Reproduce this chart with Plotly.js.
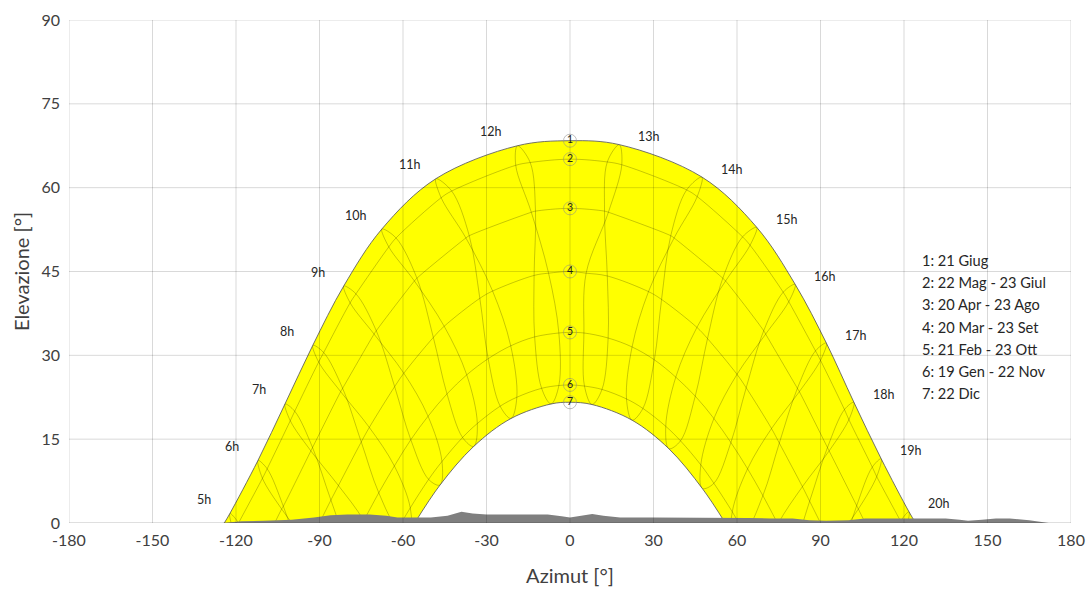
<!DOCTYPE html>
<html><head><meta charset="utf-8">
<script src="https://cdn.plot.ly/plotly-3.0.1.min.js"></script>
<style>body{margin:0;background:#fff}#chart{width:1089px;height:589px}</style>
</head><body><div id="chart"></div>
<script>
// ---- data ----
const hourLabels = ['5h','6h','7h','8h','9h','10h','11h','12h','13h','14h','15h','16h','17h','18h','19h','20h'];
// dates of each analemma point (one loop per hour), in calendar order round the figure-8
const dateNames = ['21 Giu','23 Lug','23 Ago','23 Set','23 Ott','22 Nov','22 Dic','19 Gen','21 Feb','20 Mar','20 Apr','22 Mag'];
const dateCurve = [1,2,3,4,5,6,7,6,5,4,3,2];

const az5  = [-122.2,-120.8,-114.4,-104.8,-95.2,-88.0,-87.4,-92.3,-100.8,-107.6,-113.7,-119.1];
const el5  = [1.7,-1.5,-7.6,-14.3,-20.7,-27.3,-31.6,-31.7,-25.8,-16.9,-7.0,0.0];
const az6  = [-112.1,-110.5,-103.6,-93.9,-84.6,-77.9,-77.5,-82.0,-89.8,-96.5,-103.0,-108.8];
const el6  = [11.2,8.0,2.5,-3.9,-10.1,-16.8,-21.1,-21.1,-15.3,-6.5,3.0,9.7];
const az7  = [-102.4,-100.5,-93.1,-83.2,-74.1,-67.9,-67.7,-72.0,-79.3,-85.9,-92.5,-98.9];
const el7  = [21.3,18.3,12.9,6.7,0.4,-6.7,-11.0,-10.8,-4.7,4.1,13.5,20.0];
const az8  = [-92.4,-90.3,-82.4,-72.1,-63.1,-57.4,-57.6,-61.8,-68.7,-75.0,-81.7,-88.5];
const el8  = [31.8,28.8,23.5,17.1,10.2,2.7,-1.6,-1.0,5.4,14.5,24.1,30.5];
const az9  = [-81.3,-79.0,-70.4,-59.7,-51.0,-46.0,-46.7,-50.8,-57.2,-63.0,-69.6,-76.9];
const el9  = [42.4,39.4,33.8,26.8,19.1,11.0,6.8,7.8,14.9,24.4,34.4,41.0];
const az10 = [-67.6,-65.1,-55.9,-45.2,-37.1,-33.3,-34.6,-38.6,-44.2,-49.1,-55.0,-62.5];
const el10 = [52.6,49.4,43.3,35.2,26.5,17.8,13.7,15.3,23.1,33.2,43.8,51.0];
const az11 = [-48.2,-46.3,-37.4,-27.8,-21.3,-19.1,-21.2,-25.1,-29.4,-32.4,-36.2,-42.5];
const el11 = [61.6,58.2,51.0,41.5,31.7,22.5,18.7,20.9,29.4,40.2,51.4,59.4];
const az12 = [-18.9,-19.5,-13.9,-7.7,-4.0,-4.0,-6.8,-10.2,-12.7,-12.9,-12.4,-14.3];
const el12 = [67.5,64.0,55.6,44.7,34.0,24.6,21.3,24.1,33.3,44.3,55.8,64.5];
const az13 = [17.7,13.4,12.4,13.4,13.7,11.5,7.9,5.2,5.0,5.8,13.8,18.6];
const el13 = [67.7,64.6,55.8,44.2,33.1,23.9,21.2,24.5,34.0,44.7,55.6,64.1];
const az14 = [47.4,41.9,36.2,32.9,30.3,26.2,22.3,20.3,22.3,28.2,37.4,45.7];
const el14 = [61.9,59.6,51.4,40.0,29.2,20.5,18.4,22.2,31.5,41.4,51.0,58.4];
const az15 = [67.1,62.0,54.9,49.4,45.0,39.7,35.5,34.4,38.0,45.6,55.9,64.7];
const el15 = [52.9,51.2,43.8,33.0,22.7,14.7,13.3,17.3,26.1,35.0,43.3,49.7];
const az16 = [80.9,76.6,69.6,63.3,57.8,51.7,47.5,47.0,51.7,60.0,70.3,78.6];
const el16 = [42.7,41.3,34.4,24.2,14.4,7.1,6.2,10.4,18.7,26.6,33.8,39.6];
const az17 = [92.1,88.2,81.7,75.2,69.3,62.6,58.4,58.3,63.8,72.4,82.4,90.0];
const el17 = [32.2,30.8,24.1,14.3,4.9,-1.8,-2.2,2.0,9.7,16.9,23.5,29.1];
const az18 = [102.0,98.6,92.5,86.1,79.9,72.8,68.4,68.7,74.7,83.5,93.1,100.2];
const el18 = [21.6,20.3,13.5,3.9,-5.3,-11.6,-11.7,-7.5,-0.2,6.5,12.9,18.5];
const az19 = [111.8,108.6,103.0,96.8,90.4,82.8,78.2,78.7,85.2,94.1,103.6,110.2];
const el19 = [11.5,10.0,3.1,-6.7,-15.9,-22.0,-21.9,-17.7,-10.7,-4.1,2.5,8.3];
const az20 = [121.8,118.8,113.7,107.9,101.4,93.2,88.2,88.8,95.8,105.0,114.3,120.5];
const el20 = [2.0,0.3,-7.0,-17.1,-26.4,-32.5,-32.4,-28.2,-21.2,-14.5,-7.6,-1.3];

// date curves 1..7: elevation at azimuth 0 and sunrise/sunset azimuth
const curveLabels = ['1','2','3','4','5','6','7'];
const curveNoonElev = [68.4,65.1,56.3,45.0,34.1,24.7,21.6];
const curveRiseAz = [124.2,119.1,106.1,90.0,74.5,60.6,55.8];
const legendLines = ['1: 21 Giug','2: 22 Mag - 23 Giul','3: 20 Apr - 23 Ago','4: 20 Mar - 23 Set','5: 21 Feb - 23 Ott','6: 19 Gen - 22 Nov','7: 22 Dic'];

// horizon profile (grey)
const terrAz = [-125,-118,-110,-100,-92,-86,-80,-72,-66,-62,-57,-50,-44,-39,-35,-30,-20,-8,-3,0,4,8,12,18,30,45,58,64,72,80,86,92,100,106,115,125,135,140,143,148,153,158,165,172];
const terrEl = [0,0.3,0.4,0.6,1.0,1.4,1.5,1.5,1.3,1.0,1.0,1.0,1.3,2.0,1.7,1.5,1.5,1.5,1.2,1.0,1.3,1.6,1.3,1.0,1.0,1.0,1.0,0.9,0.8,0.8,0.5,0.4,0.5,0.8,0.8,0.8,0.8,0.6,0.4,0.6,0.8,0.8,0.5,0];

const xTicks = [-180,-150,-120,-90,-60,-30,0,30,60,90,120,150,180];
const yTicks = [0,15,30,45,60,75,90];

// ---- build ----
const hourAz = [az5,az6,az7,az8,az9,az10,az11,az12,az13,az14,az15,az16,az17,az18,az19,az20];
const hourEl = [el5,el6,el7,el8,el9,el10,el11,el12,el13,el14,el15,el16,el17,el18,el19,el20];
const FONT = 'Lato, "Open Sans", sans-serif';

function curvePoints(k) {
  const pts = [];
  hourAz.forEach((azs, hi) => azs.forEach((a, di) => {
    if (dateCurve[di] === k && hourEl[hi][di] > 0.2) pts.push([a, hourEl[hi][di]]);
  }));
  pts.push([0, curveNoonElev[k-1]]);
  pts.push([-curveRiseAz[k-1], 0], [curveRiseAz[k-1], 0]);
  pts.sort((p, q) => p[0] - q[0]);
  return {x: pts.map(p => p[0]), y: pts.map(p => p[1])};
}

const traces = [];
const c7 = curvePoints(7), c1 = curvePoints(1);
traces.push({x: c7.x, y: c7.y, mode: 'lines', line: {width: 0, shape: 'spline'}, hoverinfo: 'skip', showlegend: false});
traces.push({x: c1.x, y: c1.y, mode: 'lines', fill: 'tonexty', fillcolor: '#ffff00', line: {width: 0, shape: 'spline'}, hoverinfo: 'skip', showlegend: false});

// analemmas
hourAz.forEach((azs, hi) => {
  const els = hourEl[hi];
  traces.push({x: azs.concat([azs[0]]), y: els.concat([els[0]]), mode: 'lines',
    line: {color: 'rgba(0,0,0,0.28)', width: 0.8, shape: 'spline'}, hoverinfo: 'skip', showlegend: false});
});
// date curves
for (let k = 1; k <= 7; k++) {
  const c = curvePoints(k);
  const edge = (k === 1 || k === 7);
  traces.push({x: c.x, y: c.y, mode: 'lines',
    line: {color: edge ? 'rgba(90,90,90,0.85)' : 'rgba(0,0,0,0.28)', width: edge ? 1 : 0.8, shape: 'spline'},
    hoverinfo: 'skip', showlegend: false});
}
// horizon profile
traces.push({x: terrAz, y: terrEl, mode: 'lines', fill: 'tozeroy', fillcolor: '#7f7f7f',
  line: {width: 0, color: '#7f7f7f'}, hoverinfo: 'skip', showlegend: false});
// numbered circles
traces.push({x: curveNoonElev.map(() => 0), y: curveNoonElev, mode: 'markers+text', text: curveLabels,
  textposition: 'middle center', textfont: {family: FONT, size: 10.5, color: '#222'},
  marker: {symbol: 'circle', size: 13, color: 'rgba(0,0,0,0)', line: {color: 'rgba(140,140,140,0.55)', width: 1}},
  hoverinfo: 'skip', showlegend: false, cliponaxis: false});

const shapes = [];
xTicks.forEach(v => shapes.push({type: 'line', xref: 'x', yref: 'y', x0: v, x1: v, y0: 0, y1: 90, layer: 'above',
  line: {color: 'rgba(0,0,0,0.15)', width: 1}}));
yTicks.forEach(v => shapes.push({type: 'line', xref: 'x', yref: 'y', x0: -180, x1: 180, y0: v, y1: v, layer: 'above',
  line: {color: v === 0 ? 'rgba(0,0,0,0.25)' : 'rgba(0,0,0,0.15)', width: 1}}));

const annotations = [];
hourLabels.forEach((t, hi) => {
  const a = hourAz[hi][0], e = hourEl[hi][0];
  const morning = a < 0;
  annotations.push({x: a, y: e, xref: 'x', yref: 'y', text: t, showarrow: false,
    xshift: morning ? -26 : 30, yshift: morning ? 14 : 8,
    font: {family: FONT, size: 12.5, color: '#262626'}});
});
legendLines.forEach((t, i) => {
  annotations.push({x: 125.6, y: 46.9 - i * 3.945, xref: 'x', yref: 'y', text: t, showarrow: false,
    xanchor: 'left', yanchor: 'middle', font: {family: FONT, size: 14.6, color: '#262626'}});
});

const layout = {
  width: 1089, height: 589,
  margin: {l: 69, r: 18, t: 20, b: 66},
  paper_bgcolor: '#fff', plot_bgcolor: '#fff',
  showlegend: false,
  font: {family: FONT, color: '#404040'},
  xaxis: {range: [-180, 180], tickmode: 'array', tickvals: xTicks, ticktext: xTicks.map(String),
    showgrid: false, zeroline: false, showline: false, ticks: '', ticklabelstandoff: 6,
    tickfont: {family: FONT, size: 16, color: '#404040'},
    title: {text: 'Azimut [°]', font: {family: FONT, size: 20, color: '#404040'}, standoff: 20}, automargin: false, fixedrange: true},
  yaxis: {range: [0, 90], tickmode: 'array', tickvals: yTicks, ticktext: yTicks.map(String),
    showgrid: false, zeroline: false, showline: false, ticks: '', ticklabelstandoff: 8,
    tickfont: {family: FONT, size: 16, color: '#404040'},
    title: {text: 'Elevazione [°]', font: {family: FONT, size: 20, color: '#404040'}, standoff: 6}, automargin: false, fixedrange: true},
  shapes: shapes,
  annotations: annotations
};

Plotly.newPlot('chart', traces, layout, {displayModeBar: false, staticPlot: true});
</script>
</body></html>
